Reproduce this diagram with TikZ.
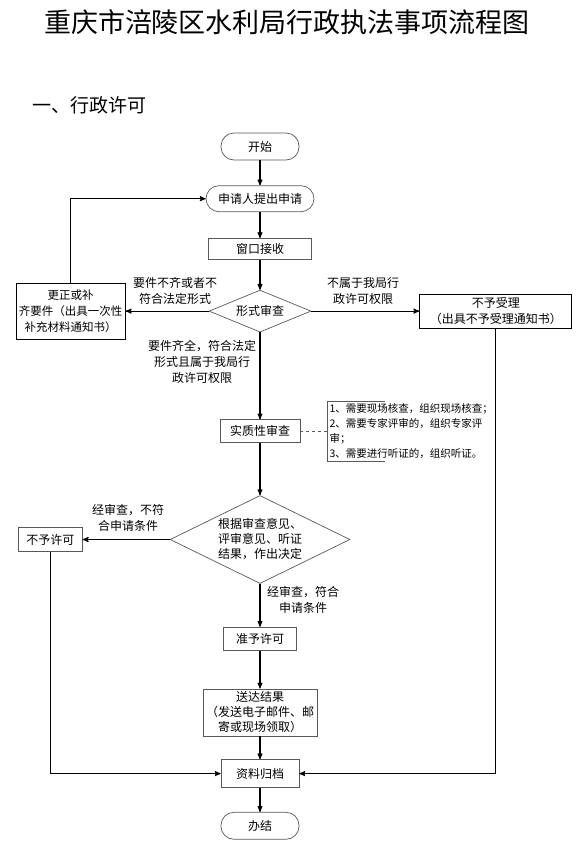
\documentclass[tikz,border=0pt]{standalone}
\usepackage{fontspec}
\setmainfont{Noto Sans CJK SC}
\usetikzlibrary{arrows,shapes.geometric,positioning}
\tikzstyle{post}=[->,>=stealth',line width=1.1pt]
\tikzstyle{proc}=[draw=black!65,line width=0.7pt,rectangle,inner sep=1pt,align=center,font=\fontsize{12}{15}\selectfont]
\tikzstyle{term}=[proc,rounded corners=13pt]
\tikzstyle{boldbox}=[proc,draw=black,line width=1.1pt]
\tikzstyle{cond}=[proc,diamond,inner sep=0pt]
\tikzstyle{lbl}=[align=center,font=\fontsize{12}{16}\selectfont]

\begin{document}
\begin{tikzpicture}[x=1pt,y=1pt]
            \useasboundingbox (0,0) rectangle (586,-841);
            \node (title) at (287,-22) {\fontsize{27}{30}\selectfont 重庆市涪陵区水利局行政执法事项流程图};
            \node (sect) [anchor=west,inner sep=0pt] at (32,-105) {\fontsize{19}{22}\selectfont 一、行政许可};

            \node (start) [term, minimum width=78pt, minimum height=27pt] at (260,-146.5) {开始};
            \node (apply) [term, minimum width=108pt, minimum height=26pt] [below=25pt of start] {申请人提出申请};
            \node (recv) [proc, minimum width=103pt, minimum height=21pt] [below=26pt of apply] {窗口接收};
            \node (form) [cond, aspect=2.43, minimum width=102pt, minimum height=42pt] [below=30pt of recv] {形式审查};
            \node (exam) [proc, minimum width=80pt, minimum height=23pt] [below=87pt of form] {实质性审查};
            \node (decide) [cond, aspect=2.05, minimum width=180pt, minimum height=88pt] [below=52pt of exam] {根据审查意见、\\评审意见、听证\\结果，作出决定};
            \node (grant) [proc, minimum width=73pt, minimum height=23pt] [below=43pt of decide] {准予许可};
            \node (send) [proc, minimum width=114pt, minimum height=47pt] [below=38pt of grant] {送达结果\\（发送电子邮件、邮\\寄或现场领取）};
            \node (archive) [proc, minimum width=78pt, minimum height=28pt] [below=23pt of send] {资料归档};
            \node (done) [term, minimum width=78pt, minimum height=27pt] [below=24pt of archive] {办结};

            \node (fix) [boldbox, minimum width=109pt, minimum height=56pt, font=\fontsize{11.5}{16}\selectfont] [left=83pt of form] {更正或补\\齐要件（出具一次性\\补充材料通知书）};
            \node (reject) [boldbox, minimum width=152pt, minimum height=34pt, font=\fontsize{12}{16}\selectfont] [right=108pt of form] {不予受理\\（出具不予受理通知书）};
            \node (deny) [proc, minimum width=64pt, minimum height=24pt] [left=87pt of decide] {不予许可};
            \node (note) [align=left, inner sep=2pt, font=\fontsize{10.5}{15}\selectfont] [right=27pt of exam] {1、需要现场核查，组织现场核查；\\2、需要专家评审的，组织专家评\\审；\\3、需要进行听证的，组织听证。};
            \draw[black!65, line width=0.7pt] ([xshift=58pt]note.north west) -- (note.north west) -- (note.south west) -- ++(58pt,0);

            \node (lblfix) [lbl] at (175,-291) {要件不齐或者不\\符合法定形式};
            \node (lblrej) [lbl] at (363,-291) {不属于我局行\\政许可权限};
            \node (lblok) [lbl] at (202,-362) {要件齐全，符合法定\\形式且属于我局行\\政许可权限};
            \node (lblno) [lbl] at (128,-518) {经审查，不符\\合申请条件};
            \node (lblyes) [lbl] at (303,-600) {经审查，符合\\申请条件};

            \draw[post] (start) -- (apply);
            \draw[post] (apply) -- (recv);
            \draw[post] (recv) -- (form);
            \draw[post] (form) -- (exam);
            \draw[post] (exam) -- (decide);
            \draw[post] (decide) -- (grant);
            \draw[post] (grant) -- (send);
            \draw[post] (send) -- (archive);
            \draw[post] (archive) -- (done);

            \draw[post] (form.west) -- (form.west -| fix.east);
            \draw[post] (fix.north) |- (apply.west);
            \draw[post] (form.east) -- (form.east -| reject.west);
            \draw[post] (reject.south) |- (archive.east);
            \draw[post] (decide.west) -- (decide.west -| deny.east);
            \draw[post] (deny.south) |- (archive.west);
            \draw[dashed, black!65, line width=0.7pt] (exam.east) -- (exam.east -| note.west);
\end{tikzpicture}
\end{document}
